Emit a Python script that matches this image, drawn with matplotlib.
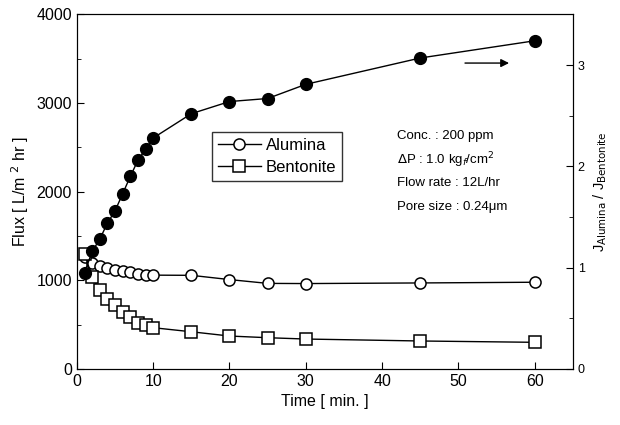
import matplotlib.pyplot as plt
from matplotlib.ticker import MultipleLocator

plt.rcParams['font.family'] = ['Liberation Sans', 'DejaVu Sans']

# time [min]
time = [1, 2, 3, 4, 5, 6, 7, 8, 9, 10, 15, 20, 25, 30, 45, 60]
# flux [L/m2 hr]
alumina = [1260, 1190, 1157, 1138, 1120, 1105, 1088, 1075, 1064, 1058, 1056, 1008, 965, 963, 970, 978]
bentonite = [1300, 1037, 888, 794, 719, 644, 581, 520, 494, 465, 419, 371, 352, 337, 315, 300]
# J_alumina / J_bentonite
ratio = [0.95, 1.16, 1.28, 1.44, 1.56, 1.73, 1.90, 2.06, 2.17, 2.28, 2.52, 2.64, 2.67, 2.81, 3.07, 3.24]

fig = plt.figure(figsize=(6.2, 4.25), dpi=100)
ax = fig.add_axes([0.124, 0.132, 0.800, 0.834])

ax.plot(time, alumina, '-o', color='black', lw=1, ms=8, mfc='white', mec='black', mew=1.1, label='Alumina', zorder=3)
ax.plot(time, bentonite, '-s', color='black', lw=1, ms=8, mfc='white', mec='black', mew=1.1, label='Bentonite', zorder=3)

ax.set_xlim(0, 65)
ax.set_ylim(0, 4000)
ax.xaxis.set_major_locator(MultipleLocator(10))
ax.yaxis.set_major_locator(MultipleLocator(1000))
ax.yaxis.set_minor_locator(MultipleLocator(500))
ax.tick_params(which='both', direction='in', labelsize=11.5)
ax.tick_params(which='major', length=5)
ax.tick_params(which='minor', length=3)
ax.set_xlabel('Time [ min. ]', fontsize=11.5)
ax.set_ylabel('Flux [ L/m $^{2}$ hr ]', fontsize=11.5)

ax2 = ax.twinx()
ax2.plot(time, ratio, '-o', color='black', lw=1, ms=8.5, mfc='black', mec='black', zorder=3)
ax2.set_ylim(0, 3.5)
ax2.yaxis.set_major_locator(MultipleLocator(1))
ax2.yaxis.set_minor_locator(MultipleLocator(0.5))
ax2.tick_params(which='both', direction='in', labelsize=9)
ax2.tick_params(which='major', length=5)
ax2.tick_params(which='minor', length=3)
ax2.set_ylabel('J$_{\\mathrm{Alumina}}$ / J$_{\\mathrm{Bentonite}}$', fontsize=10.5, labelpad=5)

# arrow pointing at right axis
ax2.annotate('', xy=(57, 3.02), xytext=(50.5, 3.02),
             arrowprops=dict(arrowstyle='-|>', color='black', lw=1, mutation_scale=12))

leg = ax.legend(loc='upper left', bbox_to_anchor=(0.272, 0.669), fontsize=12, frameon=True,
                fancybox=False, edgecolor='black', handlelength=2.6, handletextpad=0.3,
                borderpad=0.35, labelspacing=0.45, borderaxespad=0)
leg.get_frame().set_linewidth(1)

info = ['Conc. : 200 ppm', '$\\Delta$P : 1.0 kg$_f$/cm$^2$', 'Flow rate : 12L/hr', 'Pore size : 0.24μm']
for i, s in enumerate(info):
    ax.text(0.645, 0.656 - i * 0.066, s, transform=ax.transAxes, fontsize=9.5, va='center')

fig.savefig('out.png', dpi=100)
